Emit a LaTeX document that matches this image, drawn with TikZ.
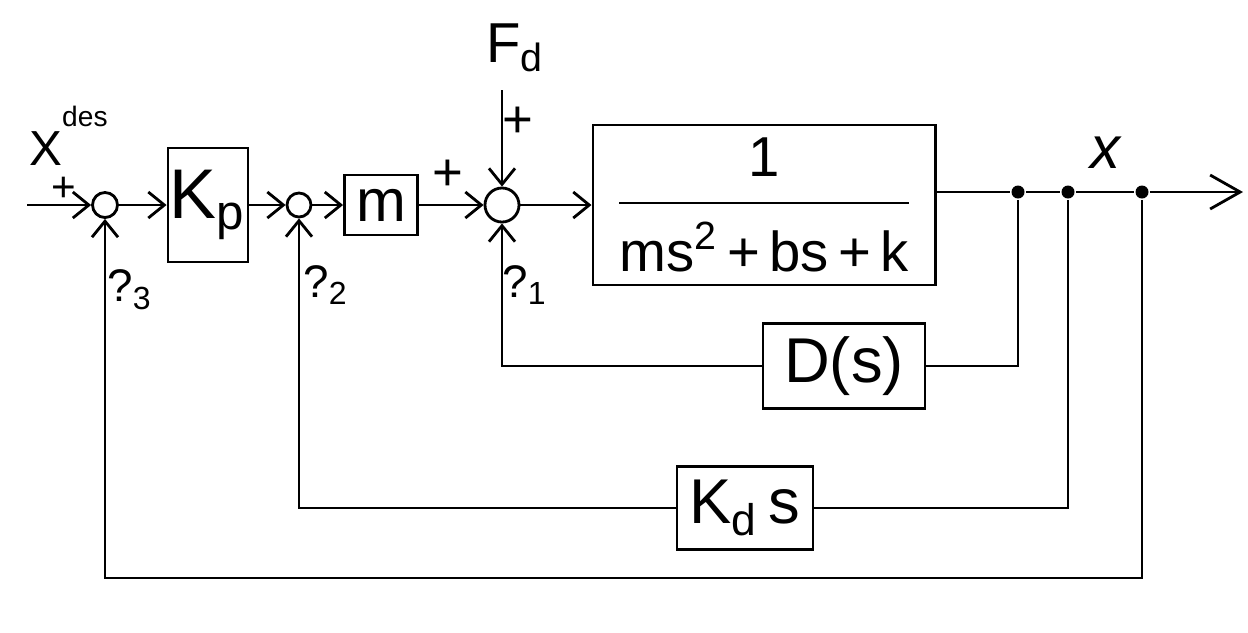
\documentclass[tikz,border=0pt]{standalone}
\usepackage{amsmath}
\usepackage{fontspec}
\setmainfont{Liberation Sans}
\usetikzlibrary{arrows.meta}
\begin{document}
\begin{tikzpicture}[x=0.01cm, y=-0.01cm, line width=0.8pt,
  >={Straight Barb[length=1.6mm,width=2.6mm]},
  blk/.style={draw, inner sep=0pt},
  sum/.style={draw, circle, inner sep=0pt},
  dot/.style={circle, fill, inner sep=0pt, minimum size=0.13cm},
  txt/.style={inner sep=0pt}]
\useasboundingbox (0,0) rectangle (1248,632);
% forward path
\coordinate (in) at (27,205);
\node[sum, minimum size=0.25cm] (s1) at (105,205) {};
\node[blk, minimum width=0.8cm, minimum height=1.14cm, font=\fontsize{20}{24}\selectfont] (kp) at (208,205) {K\textsubscript{p}};
\node[sum, minimum size=0.24cm] (s2) at (299,205) {};
\node[blk, minimum width=0.73cm, minimum height=0.6cm, font=\fontsize{17}{20}\selectfont] (m) at (381,205) {m};
\node[sum, minimum size=0.34cm] (s3) at (502,205) {};
\coordinate (fd) at (502,90);
\node[blk, minimum width=3.42cm, minimum height=1.6cm, font=\fontsize{16}{19}\selectfont] (plant) at (764,205)
  {$\dfrac{\text{1}\rule[-5pt]{0pt}{0pt}}{\rule{0pt}{17pt}\text{ms\textsuperscript{2}\,+\,bs\,+\,k}}$};
% output and pick-off points
\node[dot] (j1) at (1018,192) {};
\node[dot] (j2) at (1068,192) {};
\node[dot] (j3) at (1142,192) {};
\coordinate (out) at (1243,192);
% feedback blocks
\node[blk, minimum width=1.62cm, minimum height=0.85cm, font=\fontsize{18}{22}\selectfont] (D) at (844,366) {D(s)};
\node[blk, minimum width=1.36cm, minimum height=0.83cm, font=\fontsize{18}{22}\selectfont] (kd) at (745,508) {K\textsubscript{d}\,s};
\coordinate (c3) at (1142,578);
% connectors
\draw[->] (in) -- (s1);
\draw[->] (s1) -- (kp);
\draw[->] (kp) -- (s2);
\draw[->] (s2) -- (m);
\draw[->] (m) -- (s3);
\draw[->] (fd) -- (s3);
\draw[->] (s3) -- (plant);
\draw (plant.east |- j1) -- (j1) -- (j2) -- (j3);
\draw[-{Straight Barb[length=3mm,width=3.4mm]}] (j3) -- (out);
\draw (j1) |- (D);
\draw[->] (D) -| (s3);
\draw (j2) |- (kd);
\draw[->] (kd) -| (s2);
\draw[->] (j3) -- (c3) -| (s1);
% labels
\node[txt, anchor=base west, font=\fontsize{14}{16}\selectfont] (xdes) at (28,165) {X\raisebox{1.5ex}{\fontsize{8}{9}\selectfont des}};
\node[txt, font=\fontsize{12}{14}\selectfont] (p1) at (64,189) {+};
\node[txt, anchor=base west, font=\fontsize{16}{19}\selectfont] (fdlab) at (485,62) {F\textsubscript{d}};
\node[txt, font=\fontsize{15}{18}\selectfont] (p2) at (518,122) {+};
\node[txt, font=\fontsize{15}{18}\selectfont] (p3) at (448,175) {+};
\node[txt, font=\fontsize{13}{16}\selectfont] (q3) at (130,290) {?\textsubscript{3}};
\node[txt, font=\fontsize{13}{16}\selectfont] (q2) at (326,285) {?\textsubscript{2}};
\node[txt, font=\fontsize{13}{16}\selectfont] (q1) at (525,285) {?\textsubscript{1}};
\node[txt, font=\fontsize{17}{20}\selectfont\itshape] (xlab) at (1105,153) {x};
\end{tikzpicture}
\end{document}
